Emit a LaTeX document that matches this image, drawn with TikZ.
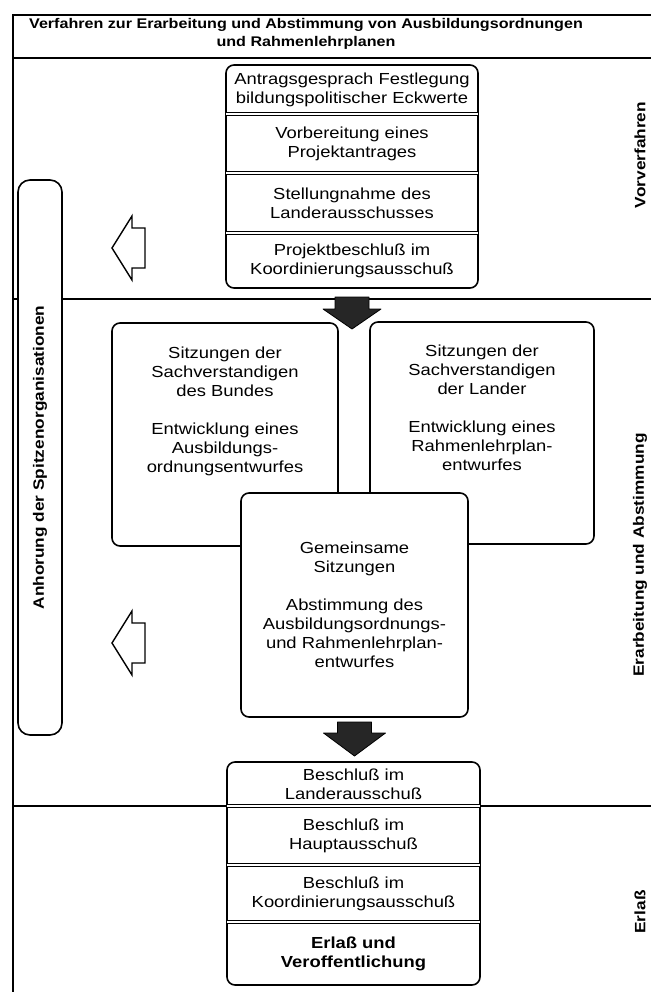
\documentclass[tikz,border=0pt]{standalone}
\usepackage{fontspec}
\setmainfont[FakeStretch=1.15]{Liberation Sans}
\usetikzlibrary{positioning}

\begin{document}
\begin{tikzpicture}[
  x = 1pt,
  y = -1pt,
  row/.style = {
    shape = rectangle,
    minimum width = 252pt,
    inner sep = 0pt,
    outer sep = 0pt,
    align = center,
    font = \fontsize{16}{19}\selectfont
  },
  panel/.style = {
    shape = rectangle,
    draw,
    fill = white,
    rounded corners = 8pt,
    line width = 1.6pt,
    inner sep = 0pt,
    outer sep = 0pt,
    align = center,
    font = \fontsize{16}{19}\selectfont
  },
  blurb/.style = {
    inner sep = 0pt,
    align = center,
    font = \fontsize{16}{19}\selectfont
  },
  side/.style = {
    rotate = 90,
    font = \fontsize{15}{18}\selectfont\bfseries
  },
  frameline/.style = {line width = 1.3pt},
  divider/.style = {double, double distance = 2.5pt, line width = 0.8pt},
  solidarrow/.style = {draw, fill = black!85, line width = 0.8pt, line join = round},
  openarrow/.style = {draw, fill = white, line width = 1.4pt, line join = miter}
]
  \useasboundingbox (0,0) rectangle (651,992);

  % frame and section lines
  \draw[frameline] (13,992) -- (13,15) -- (651,15);
  \draw[frameline] (13,58) -- (651,58);
  \draw[frameline] (13,299) -- (651,299);
  \draw[frameline] (13,806) -- (651,806);

  \node[font = \fontsize{14}{18}\selectfont\bfseries, align = center] (title) at (306,34)
    {Verfahren zur Erarbeitung und Abstimmung von Ausbildungsordnungen\\und Rahmenlehrplanen};

  % Vorverfahren
  \node[row, minimum height = 49pt] (v1) at (352,89.5) {Antragsgesprach Festlegung\\bildungspolitischer Eckwerte};
  \node[row, minimum height = 59pt, below = 0pt of v1] (v2) {Vorbereitung eines\\Projektantrages};
  \node[row, minimum height = 60pt, below = 0pt of v2] (v3) {Stellungnahme des\\Landerausschusses};
  \node[row, minimum height = 55pt, below = 0pt of v3] (v4) {Projektbeschluß im\\Koordinierungsausschuß};

  \draw[line width = 1.6pt, rounded corners = 8pt] (v1.north west) rectangle (v4.south east);
  \draw[divider] (v1.south west) -- (v1.south east);
  \draw[divider] (v2.south west) -- (v2.south east);
  \draw[divider] (v3.south west) -- (v3.south east);

  % Erarbeitung und Abstimmung
  \node[panel, minimum width = 226pt, minimum height = 223pt] (bund) at (225,434.5) {};
  \node[blurb, below = 24pt of bund.north] (bundtext)
    {Sitzungen der\\Sachverstandigen\\des Bundes\\[19pt]Entwicklung eines\\Ausbildungs-\\ordnungsentwurfes};

  \node[panel, minimum width = 224pt, minimum height = 222pt] (laender) at (482,433) {};
  \node[blurb, below = 23pt of laender.north] (laendertext)
    {Sitzungen der\\Sachverstandigen\\der Lander\\[19pt]Entwicklung eines\\Rahmenlehrplan-\\entwurfes};

  \node[panel, minimum width = 227pt, minimum height = 224pt] (gemeinsam) at (354.5,605)
    {Gemeinsame\\Sitzungen\\[19pt]Abstimmung des\\Ausbildungsordnungs-\\und Rahmenlehrplan-\\entwurfes};

  % Erlass
  \node[row, minimum width = 253pt, minimum height = 44pt] (w1) at (353.5,784) {Beschluß im\\Landerausschuß};
  \node[row, minimum width = 253pt, minimum height = 59pt, below = 0pt of w1] (w2) {Beschluß im\\Hauptausschuß};
  \node[row, minimum width = 253pt, minimum height = 57pt, below = 0pt of w2] (w3) {Beschluß im\\Koordinierungsausschuß};
  \node[row, minimum width = 253pt, minimum height = 63pt, below = 0pt of w3, font = \fontsize{16}{19}\selectfont\bfseries] (w4)
    {Erlaß und\\Veroffentlichung};

  \draw[line width = 1.6pt, rounded corners = 8pt] (w1.north west) rectangle (w4.south east);
  \draw[divider] (w1.south west) -- (w1.south east);
  \draw[divider] (w2.south west) -- (w2.south east);
  \draw[divider] (w3.south west) -- (w3.south east);

  % flow arrows
  \draw[solidarrow] ([yshift = -9pt]v4.south) ++(-17,0) -- ++(34,0) -- ++(0,12) -- ++(12,0)
    -- ++(-29,20) -- ++(-29,-20) -- ++(12,0) -- cycle;
  \draw[solidarrow] ([yshift = -5pt]gemeinsam.south) ++(-17,0) -- ++(34,0) -- ++(0,11) -- ++(14,0)
    -- ++(-31,23) -- ++(-31,-23) -- ++(14,0) -- cycle;

  % Anhoerung
  \node[panel, rotate = 90, rounded corners = 12pt, minimum width = 555pt, minimum height = 44pt,
    font = \fontsize{15}{18}\selectfont\bfseries] (bar) at (40,457.5)
    {Anhorung der Spitzenorganisationen};

  \coordinate (o1) at (112,248);
  \coordinate (o2) at (112,643);
  \draw[openarrow] (o1) -- ++(20,-32) -- ++(0,12) -- ++(13,0) -- ++(0,40) -- ++(-13,0) -- ++(0,12) -- cycle;
  \draw[openarrow] (o2) -- ++(20,-32) -- ++(0,12) -- ++(13,0) -- ++(0,40) -- ++(-13,0) -- ++(0,12) -- cycle;

  % section labels
  \node[side] (vorverfahren) at (640,155) {Vorverfahren};
  \node[side] (erarbeitung) at (640,555) {Erarbeitung und Abstimmung};
  \node[side] (erlass) at (640,912) {Erlaß};
\end{tikzpicture}
\end{document}
